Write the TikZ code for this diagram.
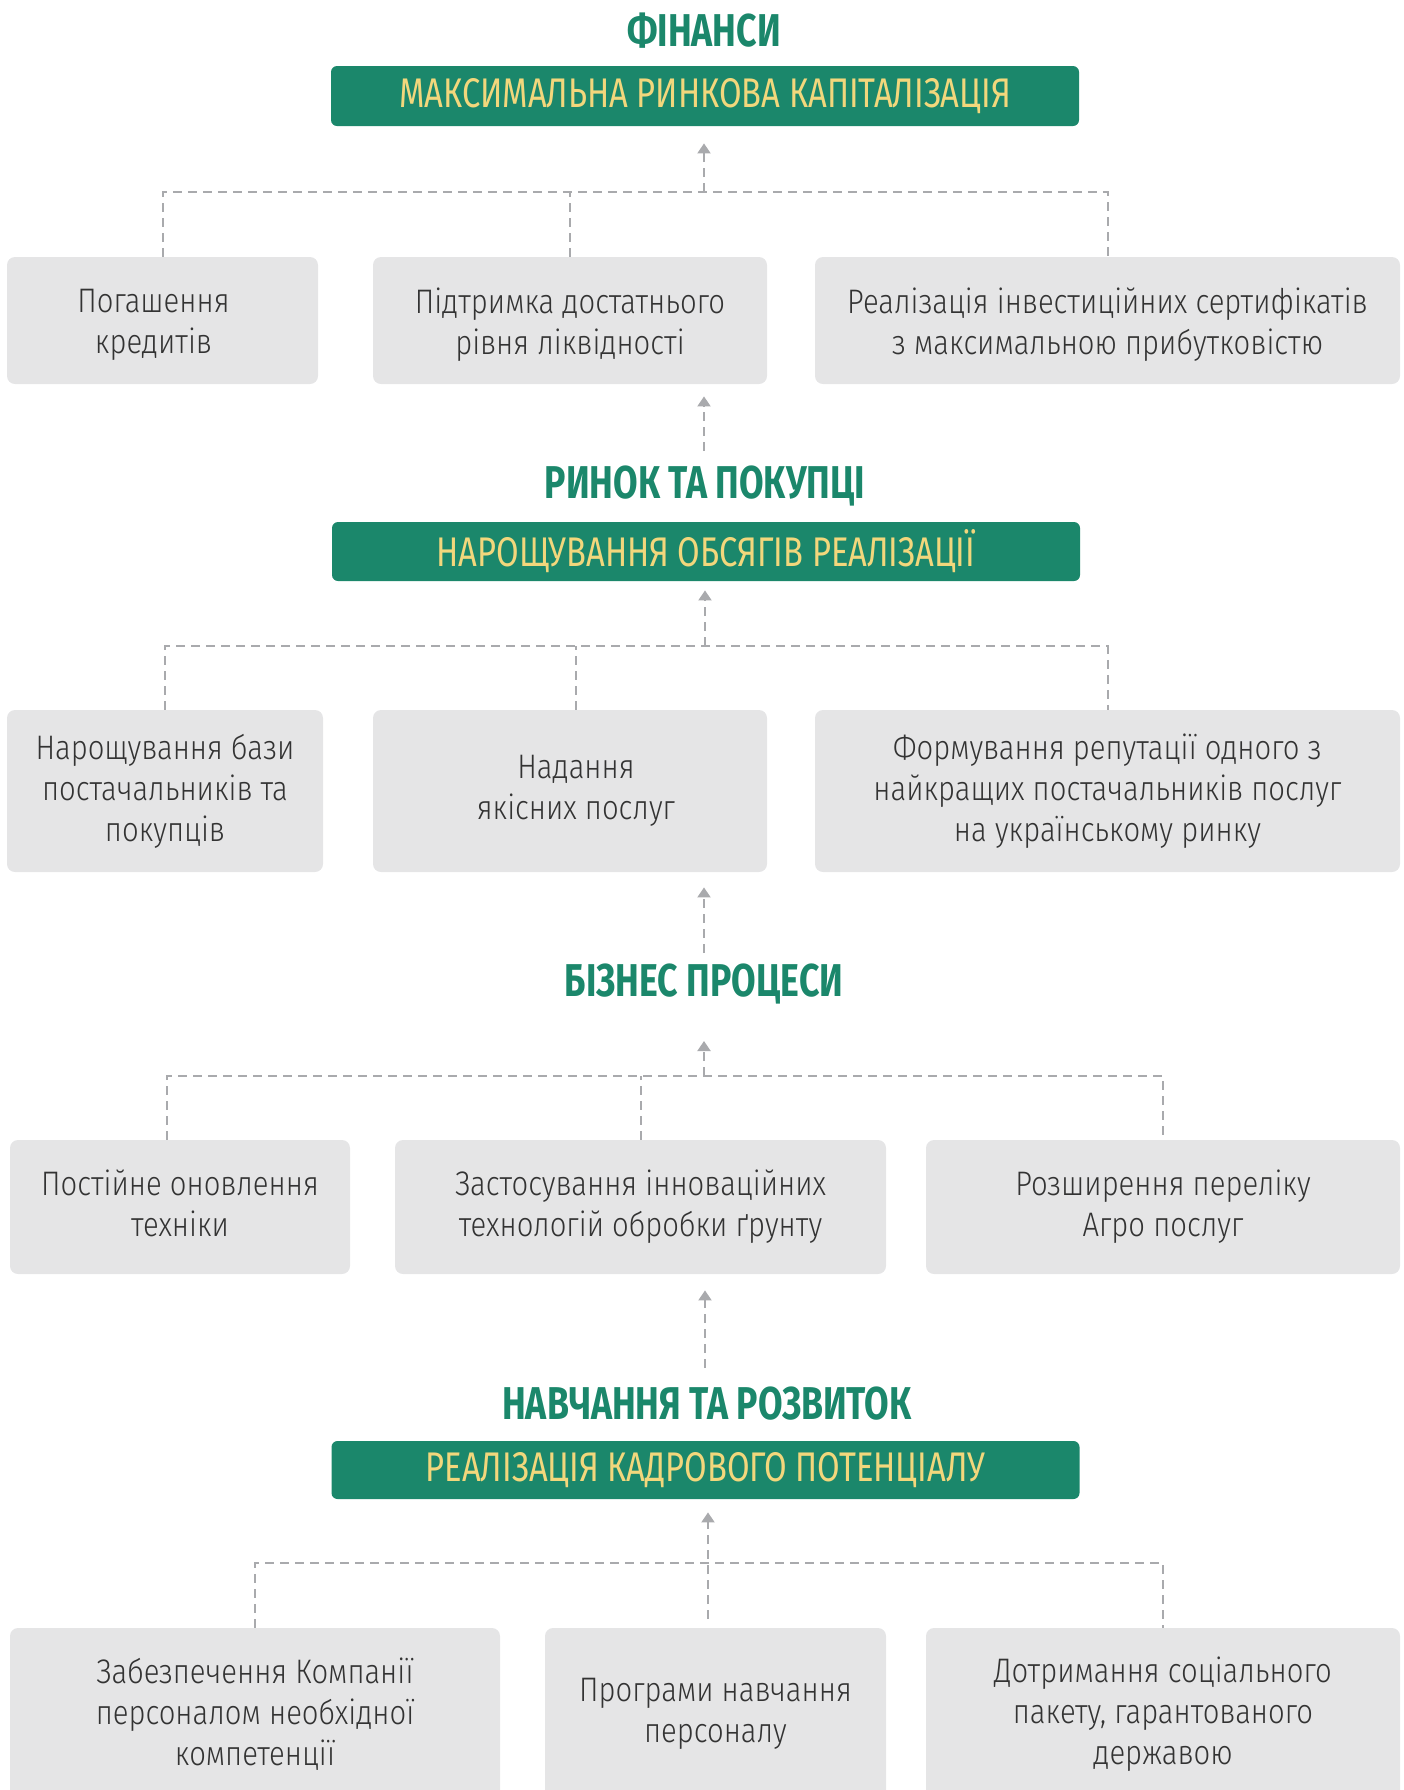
\documentclass[tikz,border=0pt]{standalone}
\usepackage{fontspec}
\setmainfont{Fira Sans}[UprightFont=* Light, BoldFont=* Bold, FakeStretch=0.86]
\newfontfamily\titlef{Fira Sans}[UprightFont=* Bold, FakeStretch=0.775]
\newfontfamily\headf{Fira Sans}[FakeStretch=0.79]
\usetikzlibrary{arrows.meta,calc}
\definecolor{hgreen}{HTML}{1B876B}
\definecolor{hyellow}{HTML}{F2D77C}
\definecolor{gbg}{HTML}{E5E5E6}
\definecolor{ink}{HTML}{333333}
\definecolor{lgray}{HTML}{A9AAAD}
\newcommand{\lowr}[2]{\raisebox{#1}[\height][\depth]{#2}}
\tikzset{
  gbox/.style={fill=gbg, rounded corners=4pt, inner sep=0pt, text=ink, align=center,
    font=\fontsize{17pt}{20.5pt}\selectfont},
  hbox/.style={fill=hgreen, rounded corners=3pt, inner sep=0pt, text=hyellow,
    font=\headf\fontsize{20.7pt}{24pt}\selectfont, minimum width=374pt},
  ttl/.style={text=hgreen, inner sep=0pt, font=\titlef\fontsize{23pt}{26pt}\selectfont},
  link/.style={draw=lgray, line width=1pt, dash pattern=on 4.5pt off 3pt},
  up/.style={link, -{Triangle[width=6.5pt,length=5pt]}}
}
\begin{document}
\begin{tikzpicture}[x=0.5pt,y=-0.5pt]
\useasboundingbox (0,0) rectangle (1404,1790);
% ---- section 1
\node[ttl] (T1) at (704,31) {ФІНАНСИ};
\node[hbox, minimum height=30pt] (G1) at (705,96) {МАКСИМАЛЬНА РИНКОВА КАПІТАЛІЗАЦІЯ};
\node[gbox, minimum width=155.5pt, minimum height=63.5pt] (A1) at (162.5,320.5) {\lowr{-2.3pt}{\hspace*{-9pt}Погашення}\\\lowr{-2.3pt}{\hspace*{-9pt}кредитів}};
\node[gbox, minimum width=197pt, minimum height=63.5pt] (B1) at (570,320.5) {\lowr{-2.3pt}{Підтримка достатнього}\\\lowr{-2.3pt}{рівня ліквідності}};
\node[gbox, minimum width=292.5pt, minimum height=63.5pt] (C1) at (1107.5,320.5) {\lowr{-2.3pt}{Реалізація інвестиційних сертифікатів}\\\lowr{-2.3pt}{з максимальною прибутковістю}};
\coordinate (h1) at (704,192);
\draw[link] (A1.north) -- (A1.north |- h1) -- (C1.north |- h1) -- (C1.north);
\draw[link] (B1.north) -- (B1.north |- h1);
\draw[up, shorten >=8.5pt] (h1) -- (h1 |- G1.south);
% ---- section 2
\node[ttl] (T2) at (705,486) {РИНОК ТА ПОКУПЦІ};
\coordinate (s2) at (704,451);
\draw[up, shorten >=6pt] (s2) -- (s2 |- B1.south);
\node[hbox, minimum height=29.5pt] (G2) at (706,551.5) {НАРОЩУВАННЯ ОБСЯГІВ РЕАЛІЗАЦІЇ};
\node[gbox, minimum width=158pt, minimum height=81pt] (A2) at (165,791) {Нарощування бази\\постачальників та\\покупців};
\node[gbox, minimum width=197pt, minimum height=81pt] (B2) at (570,791) {\hspace*{6pt}Надання\\\hspace*{6pt}якісних послуг};
\node[gbox, minimum width=292.5pt, minimum height=81pt] (C2) at (1107.5,791) {Формування репутації одного з\\найкращих постачальників послуг\\на українському ринку};
\coordinate (h2) at (705,646);
\draw[link] (A2.north) -- (A2.north |- h2) -- (C2.north |- h2) -- (C2.north);
\draw[link] ($(B2.north)+(6,0)$) -- ($(B2.north |- h2)+(6,0)$);
\draw[up, shorten >=4.5pt] (h2) -- (h2 |- G2.south);
% ---- section 3
\node[ttl] (T3) at (704,984) {БІЗНЕС ПРОЦЕСИ};
\coordinate (s3) at (704,953);
\draw[up, shorten >=7.5pt] (s3) -- (s3 |- B2.south);
\node[gbox, minimum width=170pt, minimum height=67pt] (A3) at (180,1207) {\lowr{1.7pt}{Постійне оновлення}\\\lowr{1.7pt}{техніки}};
\node[gbox, minimum width=245.5pt, minimum height=67pt] (B3) at (640.5,1207) {Застосування інноваційних\\технологій обробки ґрунту};
\node[gbox, minimum width=237pt, minimum height=67pt] (C3) at (1163,1207) {Розширення переліку\\Агро послуг};
\coordinate (h3) at (704,1076);
\coordinate (a3) at (167,1076);
\draw[link] (a3 |- A3.north) -- (a3) -- (C3.north |- h3) -- (C3.north);
\draw[link] (B3.north) -- (B3.north |- h3);
\draw[up, shorten >=28.5pt] (h3) -- (h3 |- T3.center);
% ---- section 4
\node[ttl] (T4) at (707,1404) {НАВЧАННЯ ТА РОЗВИТОК};
\coordinate (s4) at (705,1368);
\draw[up, shorten >=8pt] (s4) -- (s4 |- B3.south);
\node[hbox, minimum height=29pt] (G4) at (705.5,1470) {РЕАЛІЗАЦІЯ КАДРОВОГО ПОТЕНЦІАЛУ};
\node[gbox, minimum width=245pt, minimum height=86pt] (A4) at (255,1714) {Забезпечення Компанії\\персоналом необхідної\\компетенції};
\node[gbox, minimum width=170.5pt, minimum height=86pt] (B4) at (715.5,1714) {Програми навчання\\персоналу};
\node[gbox, minimum width=237pt, minimum height=86pt] (C4) at (1163,1714) {Дотримання соціального\\пакету, гарантованого\\державою};
\coordinate (h4) at (708,1563);
\coordinate (m4) at (708,1619);
\draw[link] (A4.north) -- (A4.north |- h4) -- (C4.north |- h4) -- (C4.north);
\draw[up, shorten >=6.5pt] (m4) -- (m4 |- G4.south);
\end{tikzpicture}
\end{document}
